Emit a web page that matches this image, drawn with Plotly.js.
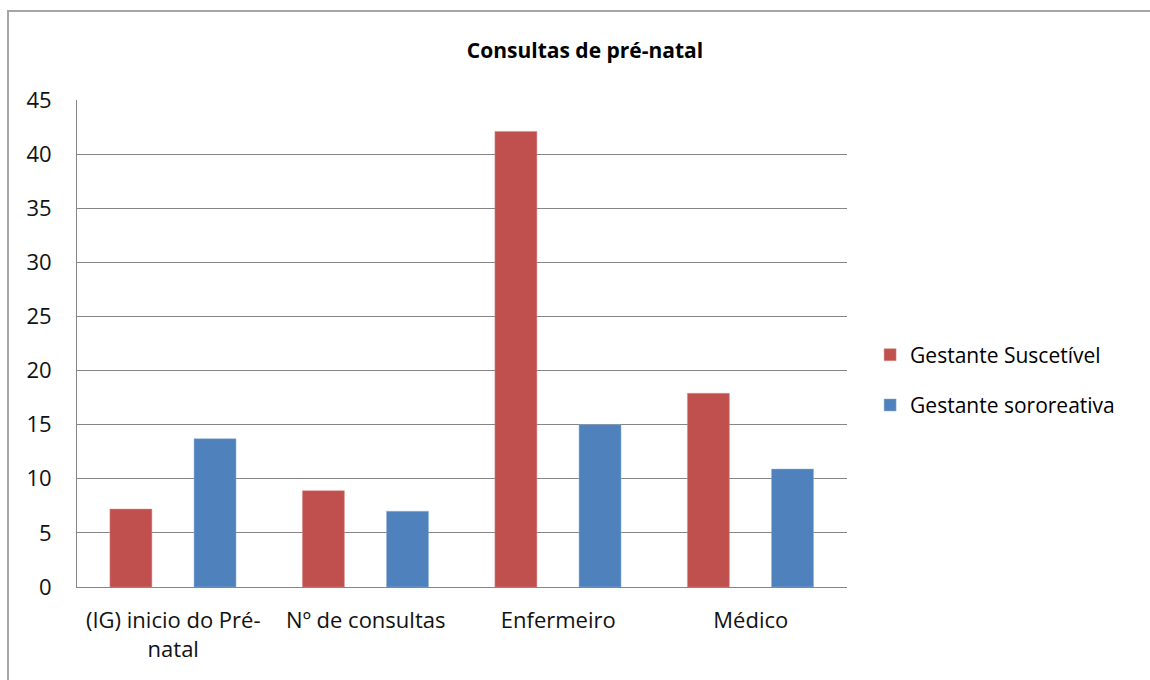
<!DOCTYPE html>
<html>
<head>
<meta charset="utf-8">
<script src="https://cdn.plot.ly/plotly-3.0.1.min.js"></script>
<style>
  html, body { margin: 0; padding: 0; background: #ffffff; overflow: hidden; }
  #wrap { position: relative; width: 1150px; height: 680px; overflow: hidden; }
  #frame { position: absolute; left: 7px; top: 10px; width: 1400px; height: 800px;
           border-left: 2px solid #a6a6a6; border-top: 2px solid #a6a6a6; }
  #chart { position: absolute; left: 0; top: 0; width: 1150px; height: 680px; }
</style>
</head>
<body>
<div id="wrap">
  <div id="frame"></div>
  <div id="chart"></div>
</div>
<script>
const categories = ["(IG) inicio do Pré-<br>natal", "Nº de consultas", "Enfermeiro", "Médico"];
const seriesNames = ["Gestante Suscetível", "Gestante sororeativa"];
const suscetivel = [7.2, 8.9, 42.1, 17.9];
const sororeativa = [13.7, 7.0, 15.0, 10.9];
const yTicks = [0, 5, 10, 15, 20, 25, 30, 35, 40, 45];

const FONT = "Open Sans, DejaVu Sans, sans-serif";

const traces = [
  {
    type: "bar", name: seriesNames[0], x: categories, y: suscetivel,
    marker: { color: "#C0504D", line: { color: "#d98c8a", width: 0.5 } },
    width: 0.218, offset: -0.329, legendgroup: "a", hoverinfo: "x+y"
  },
  {
    type: "bar", name: seriesNames[1], x: categories, y: sororeativa,
    marker: { color: "#4F81BD", line: { color: "#8fb0d8", width: 0.5 } },
    width: 0.218, offset: 0.108, legendgroup: "b", hoverinfo: "x+y"
  }
];

const layout = {
  width: 1150, height: 680,
  paper_bgcolor: "rgba(0,0,0,0)", plot_bgcolor: "rgba(0,0,0,0)",
  margin: { l: 77, r: 303, t: 100, b: 93 },
  font: { family: FONT, size: 22, color: "#111111" },
  title: {
    text: "<b>Consultas de pré-natal</b>",
    font: { family: FONT, size: 21, color: "#000000" },
    x: 0.5087, xanchor: "center", xref: "container",
    y: 0.926, yanchor: "middle", yref: "container"
  },
  barmode: "group",
  showlegend: true,
  legend: {
    x: 1.03, xanchor: "left", y: 0.425, yanchor: "middle",
    traceorder: "grouped", tracegroupgap: 20,
    font: { family: FONT, size: 21, color: "#000000" },
    bgcolor: "rgba(0,0,0,0)", itemclick: false
  },
  xaxis: {
    type: "category",
    showgrid: false, showline: true, linecolor: "#868686", linewidth: 1,
    ticks: "", ticklabelstandoff: 14,
    tickfont: { family: FONT, size: 22, color: "#111111" },
    range: [-0.5, 3.5], fixedrange: true
  },
  yaxis: {
    range: [0, 45], tickvals: yTicks, ticktext: yTicks.map(String),
    showgrid: true, gridcolor: "#868686", gridwidth: 1,
    showline: true, linecolor: "#868686", linewidth: 1,
    zeroline: false, ticks: "", ticklabelstandoff: 20,
    tickfont: { family: FONT, size: 22, color: "#111111" },
    fixedrange: true
  }
};

Plotly.newPlot("chart", traces, layout, { displayModeBar: false });
</script>
</body>
</html>
